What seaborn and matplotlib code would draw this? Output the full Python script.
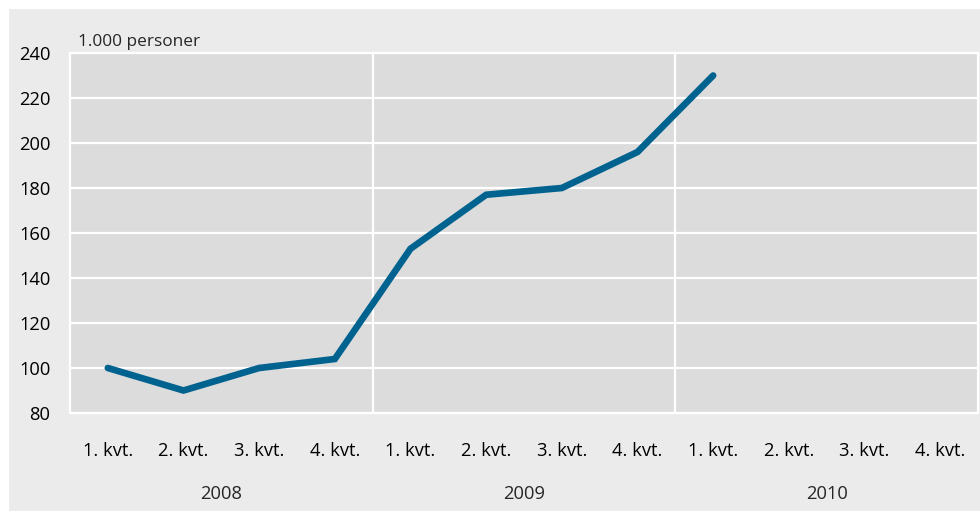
import numpy as np
import pandas as pd
import matplotlib
matplotlib.use("Agg")
import matplotlib.pyplot as plt
import seaborn as sns
from matplotlib.patches import Rectangle

# data
quarters = ['1. kvt.', '2. kvt.', '3. kvt.', '4. kvt.'] * 3
years = ['2008', '2009', '2010']
values = [100, 90, 100, 104, 153, 177, 180, 196, 230]

df = pd.DataFrame({'pos': np.arange(len(values)), 'val': values})

sns.set_style('white')
plt.rcParams['font.family'] = ['Open Sans', 'DejaVu Sans']

fig = plt.figure(figsize=(9.8, 5.11), dpi=100)
fig.patch.set_facecolor('white')
fig.patches.append(Rectangle((9 / 980, 0), 1, 1 - 9 / 511, transform=fig.transFigure,
                             facecolor='#ebebeb', edgecolor='none', zorder=-10))

ax = fig.add_axes([70 / 980, 1 - 413 / 511, 908 / 980, 360 / 511])
ax.set_facecolor('#dcdcdc')

sns.lineplot(data=df, x='pos', y='val', ax=ax, color='#00628f', linewidth=4.8,
             solid_capstyle='round', solid_joinstyle='miter', zorder=3)

ax.set_xlim(-0.5, 11.5)
ax.set_ylim(80, 240)
ax.set_yticks(range(80, 241, 20))
ax.yaxis.grid(True, color='white', linewidth=1.6)
ax.set_axisbelow(True)
for xb in [3.5, 7.5]:
    ax.axvline(xb, color='white', linewidth=1.6, zorder=1)

ax.set_xticks(range(12))
ax.set_xticklabels(quarters)
ax.tick_params(axis='both', length=0, labelsize=13.2, colors='black')
ax.tick_params(axis='x', pad=21)
ax.tick_params(axis='y', pad=14)
ax.set_xlabel('')
ax.set_ylabel('')

for s in ax.spines.values():
    s.set_color('white')
    s.set_linewidth(1.6)

for i, yr in enumerate(years):
    ax.text(i * 4 + 1.5, -0.225, yr, transform=ax.get_xaxis_transform(),
            ha='center', va='center', fontsize=13.2)

ax.text(0.009, 1.03, '1.000 personer', transform=ax.transAxes, ha='left', va='center',
        fontsize=12.4)

fig.savefig('out.png', dpi=100, facecolor=fig.get_facecolor())
